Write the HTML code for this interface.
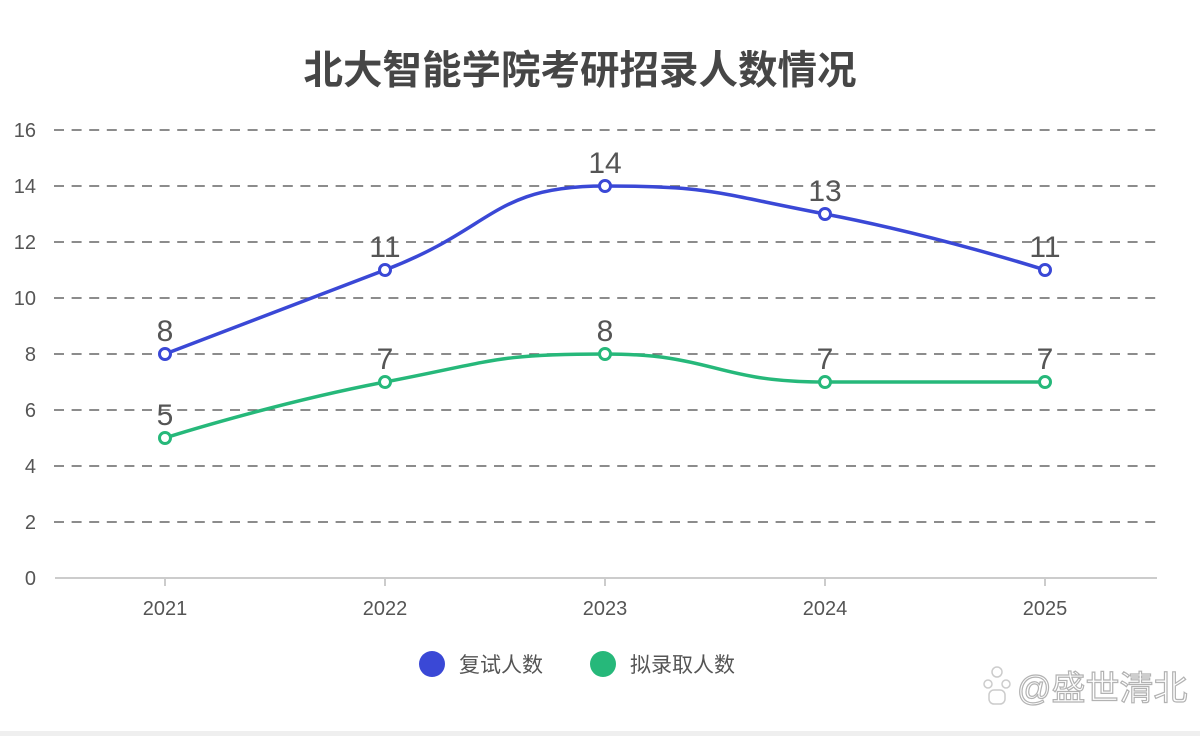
<!DOCTYPE html>
<html>
<head>
<meta charset="utf-8">
<style>
  html, body { margin: 0; padding: 0; background: #ffffff; }
  body { width: 1200px; height: 736px; overflow: hidden; position: relative; }
  svg { display: block; }
</style>
</head>
<body>
<svg width="1200" height="736" viewBox="0 0 1200 736" xmlns="http://www.w3.org/2000/svg">
  <rect x="0" y="0" width="1200" height="736" fill="#ffffff"/>
  <rect x="0" y="731" width="1200" height="5" fill="#efefef"/>

  <!-- Title -->
  <text x="580" y="84" text-anchor="middle" font-family="'Liberation Sans','Noto Sans CJK SC',sans-serif" font-size="39.5" font-weight="bold" fill="#464646">北大智能学院考研招录人数情况</text>

  <!-- Grid lines -->
  <g stroke="#666666" stroke-width="1.6" stroke-dasharray="10 7.6" fill="none">
    <line x1="54" y1="130" x2="1156" y2="130"/>
    <line x1="54" y1="186" x2="1156" y2="186"/>
    <line x1="54" y1="242" x2="1156" y2="242"/>
    <line x1="54" y1="298" x2="1156" y2="298"/>
    <line x1="54" y1="354" x2="1156" y2="354"/>
    <line x1="54" y1="410" x2="1156" y2="410"/>
    <line x1="54" y1="466" x2="1156" y2="466"/>
    <line x1="54" y1="522" x2="1156" y2="522"/>
  </g>

  <!-- X axis -->
  <line x1="55" y1="578" x2="1157" y2="578" stroke="#cccccc" stroke-width="2"/>
  <g stroke="#cccccc" stroke-width="2">
    <line x1="165" y1="578" x2="165" y2="586"/>
    <line x1="385" y1="578" x2="385" y2="586"/>
    <line x1="605" y1="578" x2="605" y2="586"/>
    <line x1="825" y1="578" x2="825" y2="586"/>
    <line x1="1045" y1="578" x2="1045" y2="586"/>
  </g>

  <!-- Y labels -->
  <g font-family="'Liberation Sans',sans-serif" font-size="20" fill="#555555" text-anchor="end">
    <text x="36" y="137">16</text>
    <text x="36" y="193">14</text>
    <text x="36" y="249">12</text>
    <text x="36" y="305">10</text>
    <text x="36" y="361">8</text>
    <text x="36" y="417">6</text>
    <text x="36" y="473">4</text>
    <text x="36" y="529">2</text>
    <text x="36" y="585">0</text>
  </g>

  <!-- X labels -->
  <g font-family="'Liberation Sans',sans-serif" font-size="20" fill="#555555" text-anchor="middle">
    <text x="165" y="615">2021</text>
    <text x="385" y="615">2022</text>
    <text x="605" y="615">2023</text>
    <text x="825" y="615">2024</text>
    <text x="1045" y="615">2025</text>
  </g>

  <!-- Blue series -->
  <path d="M165,354 C165,354 275,312 385,270 C495,228 491.7,186 605,186 C711.7,186 716.3,193.25 825,214 C936.3,235.24 1045,270 1045,270"
        fill="none" stroke="#3a48d6" stroke-width="3.5" stroke-linejoin="round" stroke-linecap="round"/>
  <!-- Green series -->
  <path d="M165,438 C165,438 273.7,403.24 385,382 C493.7,361.24 495,354 605,354 C715,354 714.5,382 825,382 C934.6,382 1045,382 1045,382"
        fill="none" stroke="#26b87a" stroke-width="3.5" stroke-linejoin="round" stroke-linecap="round"/>

  <!-- Markers -->
  <g fill="#ffffff" stroke="#3a48d6" stroke-width="3">
    <circle cx="165" cy="354" r="5.5"/>
    <circle cx="385" cy="270" r="5.5"/>
    <circle cx="605" cy="186" r="5.5"/>
    <circle cx="825" cy="214" r="5.5"/>
    <circle cx="1045" cy="270" r="5.5"/>
  </g>
  <g fill="#ffffff" stroke="#26b87a" stroke-width="3">
    <circle cx="165" cy="438" r="5.5"/>
    <circle cx="385" cy="382" r="5.5"/>
    <circle cx="605" cy="354" r="5.5"/>
    <circle cx="825" cy="382" r="5.5"/>
    <circle cx="1045" cy="382" r="5.5"/>
  </g>

  <!-- Data labels -->
  <g font-family="'Liberation Sans',sans-serif" font-size="30" fill="#555555" text-anchor="middle">
    <text x="165" y="341">8</text>
    <text x="385" y="257">11</text>
    <text x="605" y="173">14</text>
    <text x="825" y="201">13</text>
    <text x="1045" y="257">11</text>
    <text x="165" y="425">5</text>
    <text x="385" y="369">7</text>
    <text x="605" y="341">8</text>
    <text x="825" y="369">7</text>
    <text x="1045" y="369">7</text>
  </g>

  <!-- Legend -->
  <circle cx="432" cy="664" r="13" fill="#3a48d6"/>
  <text x="459" y="672" font-family="'Liberation Sans','Noto Sans CJK SC',sans-serif" font-size="21" fill="#555555">复试人数</text>
  <circle cx="603" cy="664" r="13" fill="#26b87a"/>
  <text x="630" y="672" font-family="'Liberation Sans','Noto Sans CJK SC',sans-serif" font-size="21" fill="#555555">拟录取人数</text>

  <!-- Watermark -->
  <g opacity="0.75">
    <circle cx="997" cy="672" r="5" fill="none" stroke="#bbbbbb" stroke-width="1.5"/>
    <circle cx="988" cy="684" r="4" fill="none" stroke="#bbbbbb" stroke-width="1.5"/>
    <circle cx="1006" cy="684" r="4" fill="none" stroke="#bbbbbb" stroke-width="1.5"/>
    <rect x="989" y="690" width="16" height="14" rx="5" fill="none" stroke="#bbbbbb" stroke-width="1.5"/>
    <text x="1017" y="700" font-family="'Liberation Sans','Noto Sans CJK SC',sans-serif" font-size="34" fill="#ffffff" stroke="#999999" stroke-width="1.2">@盛世清北</text>
  </g>
</svg>
</body>
</html>
